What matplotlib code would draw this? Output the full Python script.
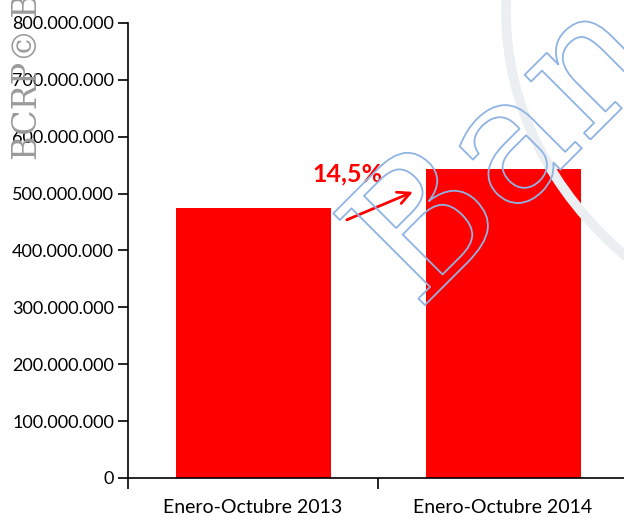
import matplotlib.pyplot as plt
import matplotlib.patheffects as pe
from matplotlib.patches import Circle
from matplotlib.ticker import FuncFormatter

# data
categories = ['Enero-Octubre 2013', 'Enero-Octubre 2014']
values = [474_500_000, 543_000_000]
growth_label = '14,5%'
y_ticks = list(range(0, 800_000_001, 100_000_000))

plt.rcParams['font.family'] = ['Lato', 'DejaVu Sans']

fig = plt.figure(figsize=(6.24, 5.23), dpi=100)

# faint gray ring in the background (watermark)
ring = Circle((920 / 624, 1 - 12 / 523), 414 / 624, transform=fig.transFigure,
              fill=False, edgecolor='#ebeff1', linewidth=7, zorder=0)
fig.patches.append(ring)

ax = fig.add_axes([128 / 624, 45 / 523, 500 / 624, 455 / 523])
ax.patch.set_alpha(0)

x = range(len(categories))
ax.bar(x, values, width=0.62, color='#ff0000', zorder=2)

ax.set_xlim(-0.5, 1.5)
ax.set_ylim(0, 800_000_000)
ax.set_yticks(y_ticks)
ax.yaxis.set_major_formatter(FuncFormatter(lambda v, p: f'{int(v):,}'.replace(',', '.')))

ax.set_xticks([-0.5, 0.5, 1.5])
ax.set_xticklabels([])
ax.set_xticks(list(x), minor=True)
ax.set_xticklabels(categories, minor=True)
ax.tick_params(axis='x', which='major', direction='out', length=8, width=1.2)
ax.tick_params(axis='x', which='minor', length=0, pad=15, labelsize=14)
ax.tick_params(axis='y', direction='out', length=7, width=1.2, labelsize=13, pad=3)

for s in ['top', 'right']:
    ax.spines[s].set_visible(False)
for s in ['left', 'bottom']:
    ax.spines[s].set_linewidth(1.2)

# growth annotation
ax.text(0.378, 535_000_000, growth_label, color='#ff0000', fontsize=18,
        fontweight='bold', ha='center', va='center', zorder=4)
ax.annotate('', xy=(0.65, 505_000_000), xytext=(0.365, 452_000_000),
            arrowprops=dict(arrowstyle='->', color='#ff0000', lw=2,
                            mutation_scale=22), zorder=4)

# watermarks
fig.text(28 / 624, 1 - 160 / 523, 'BCRP© Be', rotation=90, fontsize=24,
         color='#9a9a9a', family='DejaVu Serif', ha='center', va='bottom')
wm = fig.text(418 / 624, 1 - 312 / 523, 'Banco', rotation=45, fontsize=128,
              color='none', family='DejaVu Serif', ha='left', va='baseline',
              rotation_mode='anchor', zorder=5)
wm.set_path_effects([pe.withStroke(linewidth=1.3, foreground='#8fb4e3')])

fig.savefig('out.png', dpi=100)
